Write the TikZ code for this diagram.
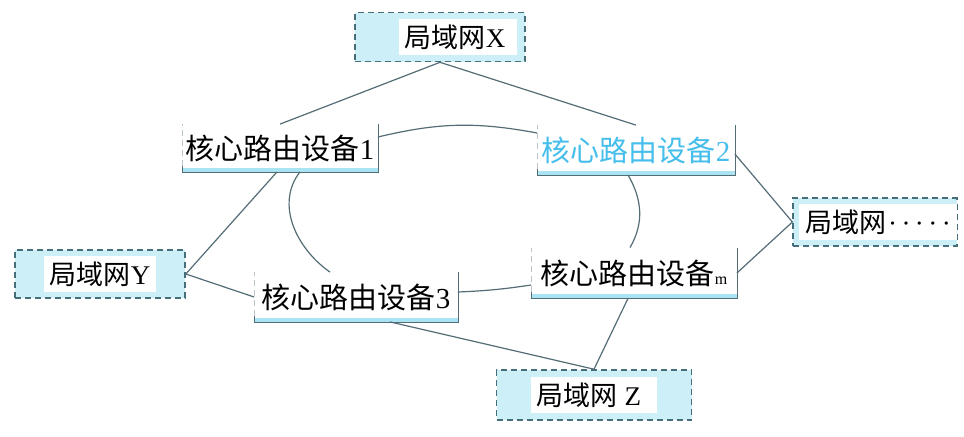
\documentclass[tikz,border=0pt]{standalone}
\usepackage{fontspec}
\setmainfont{Liberation Serif}
\newfontfamily\cjk{Noto Sans CJK SC}
\usetikzlibrary{positioning}
\definecolor{LinkGray}{RGB}{84,108,118}
\definecolor{LanCyan}{RGB}{205,240,248}
\definecolor{LanEdge}{RGB}{70,110,120}
\definecolor{BarCyan}{RGB}{170,228,242}
\definecolor{TextCyan}{RGB}{70,190,235}

\begin{document}
\begin{tikzpicture}[x=0.5pt, y=-0.5pt,
        lan/.style={draw=LanEdge, dash pattern=on 3pt off 2pt, thick, fill=LanCyan, inner sep=0pt,
                                font=\fontsize{13.5}{15}\selectfont},
        router/.style={fill=white, inner sep=0pt, font=\fontsize{14.5}{16}\selectfont},
        link/.style={draw=LinkGray, line width=0.6pt}
]
    \useasboundingbox (0,0) rectangle (964,436);
    % local networks
    \node[lan, minimum width=85pt, minimum height=24.5pt] (lanX) at (440,37)
        {\hspace*{18pt}\colorbox{white}{\cjk 局域网\rm X\hspace*{3pt}}};
    \node[lan, minimum width=85pt, minimum height=24pt] (lanY) at (100,274)
        {\colorbox{white}{\cjk 局域网\rm Y}};
    \node[lan, minimum width=80pt, minimum height=24pt] (lanN) at (875,222)
        {\hspace*{3pt}\colorbox{white}{\cjk 局域网\rm\hspace{1pt}·\hspace{2.2pt}·\hspace{2.2pt}·\hspace{2.2pt}·\hspace{2.2pt}·}};
    \node[lan, minimum width=97.5pt, minimum height=25pt] (lanZ) at (594,395)
        {\colorbox{white}{\cjk 局域网\rm\ Z\hspace*{5pt}}};
    % core routers
    \node[router, minimum width=97.5pt, minimum height=23.5pt] (r1) at (280,148)
        {\cjk 核心路由设备\rm 1};
    \node[router, minimum width=98.5pt, minimum height=24.5pt, text=TextCyan] (r2) at (636,150)
        {\cjk 核心路由设备\rm 2};
    \node[router, minimum width=101.5pt, minimum height=24.5pt] (r3) at (356,297)
        {\cjk 核心路由设备\rm 3};
    \node[router, minimum width=102.5pt, minimum height=25pt] (rm) at (634,273)
        {\cjk 核心路由设备{\rm\fontsize{8}{8}\selectfont m}};
    \foreach \r in {r1,r2,r3,rm} {
        \fill[BarCyan] (\r.south west) rectangle ([yshift=2pt]\r.south east);
        \draw[LinkGray] (\r.north east) -- (\r.south east) -- (\r.south west)
            -- ([yshift=3pt]\r.south west);
        \draw[LinkGray!40, densely dashed] ([yshift=3pt]\r.south west) -- (\r.north west);
    }
    % ring
    \draw[link] ([yshift=5.5pt]r1.east) to[bend left=12] ([yshift=8.5pt]r2.west);
    \draw[link] ([xshift=10pt]r1.south) to[out=232, in=145] ([xshift=-13pt]r3.north);
    \draw[link] ([xshift=-4pt]r2.south) to[out=-60, in=60] ([xshift=-2pt]rm.north);
    \draw[link] ([yshift=2.5pt]r3.east) to[bend right=3] ([yshift=-6pt]rm.west);
    % access links
    \draw[link] (lanX.south) -- (r1.north);
    \draw[link] (lanX.south) -- (r2.north);
    \draw[link] ([xshift=-1.5pt]r1.south) -- (lanY.east);
    \draw[link] (lanY.east) -- (r3.west);
    \draw[link] ([yshift=-2pt]r2.east) -- (lanN.west);
    \draw[link] (rm.east) -- (lanN.west);
    \draw[link] ([xshift=17pt]r3.south) -- (lanZ.north);
    \draw[link] ([xshift=-3pt]rm.south) -- (lanZ.north);
\end{tikzpicture}
\end{document}
